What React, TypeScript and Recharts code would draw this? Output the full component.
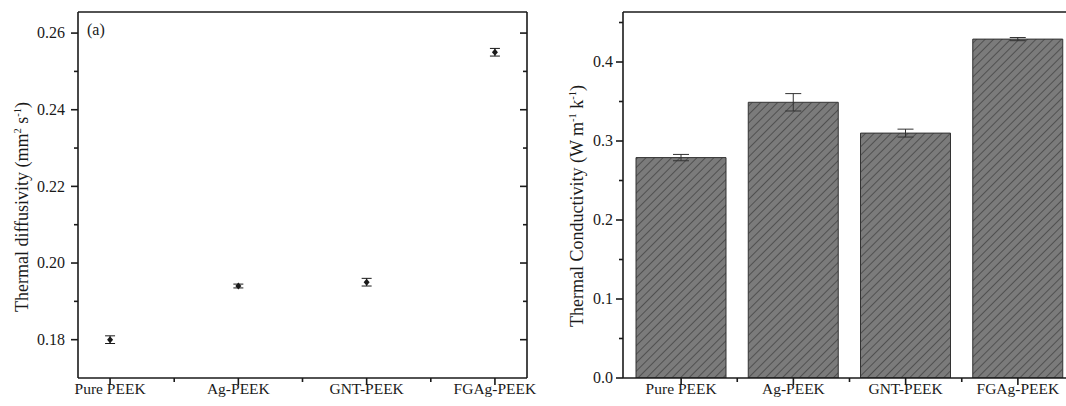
import React from "react";
import { ScatterChart, Scatter, BarChart, Bar, XAxis, YAxis, ErrorBar } from "recharts";

// samples (same order in both panels)
const categories = ["Pure PEEK", "Ag-PEEK", "GNT-PEEK", "FGAg-PEEK"];

// (a) thermal diffusivity, mm2/s
const diffusivity = [0.18, 0.194, 0.195, 0.255];
const diffusivityErr = [0.001, 0.0005, 0.001, 0.001];

// (b) thermal conductivity, W/(m k)
const conductivity = [0.279, 0.349, 0.31, 0.429];
const conductivityErr = [0.004, 0.011, 0.005, 0.002];

// tick positions (half steps are the minor ticks)
const catTicks = [1, 1.5, 2, 2.5, 3, 3.5, 4];
const diffTicks = [0.18, 0.19, 0.2, 0.21, 0.22, 0.23, 0.24, 0.25, 0.26];
const condTicks = [0, 0.05, 0.1, 0.15, 0.2, 0.25, 0.3, 0.35, 0.4, 0.45];

const INK = "#1a1a1a";
const FONT = "'Liberation Serif', 'Times New Roman', serif";
const AXIS = { stroke: INK, strokeWidth: 1.6 };

const scatterData = categories.map((name, i) => ({
    x: i + 1,
    name,
    y: diffusivity[i],
    err: diffusivityErr[i],
}));

const barData = categories.map((name, i) => ({
    x: i + 1,
    name,
    v: conductivity[i],
    err: conductivityErr[i],
}));

const bottomTick = (p: any) => {
    const v = p.payload.value;
    const major = Number.isInteger(v);
    return (
        <g>
            <line x1={p.x} x2={p.x} y1={p.y} y2={p.y + (major ? 7 : 4)} stroke={INK} strokeWidth={1.6} />
            {major && (
                <text x={p.x} y={p.y + 16} textAnchor="middle" fontFamily={FONT} fontSize={15.5} fill={INK}>
                    {categories[v - 1]}
                </text>
            )}
        </g>
    );
};

const leftTick = (isMajor: (v: number) => boolean, digits: number, gap: number) => (p: any) => {
    const v = p.payload.value;
    const major = isMajor(v);
    return (
        <g>
            <line x1={p.x - (major ? 7 : 4)} x2={p.x} y1={p.y} y2={p.y} stroke={INK} strokeWidth={1.6} />
            {major && (
                <text x={p.x - gap} y={p.y} dy="0.33em" textAnchor="end" fontFamily={FONT} fontSize={16} fill={INK}>
                    {v.toFixed(digits)}
                </text>
            )}
        </g>
    );
};

const rightTick = (isMajor: (v: number) => boolean) => (p: any) => {
    const major = isMajor(p.payload.value);
    return <line x1={p.x - (major ? 7 : 4)} x2={p.x} y1={p.y} y2={p.y} stroke={INK} strokeWidth={1.6} />;
};

const diffMajor = (v: number) => Math.round(v * 100) % 2 === 0;
const condMajor = (v: number) => Math.round(v * 100) % 10 === 0;

const yTitle = (parts: [string, boolean][], bx: number, by: number) => (props: any) => {
    const vb = props.viewBox || { x: 0, y: 0, width: 0, height: 0 };
    const cx = vb.x + bx;
    const cy = by;
    return (
        <text
            x={cx}
            y={cy}
            transform={`rotate(-90 ${cx} ${cy})`}
            textAnchor="middle"
            fontFamily={FONT}
            fontSize={18}
            fill={INK}
        >
            {parts.map(([t, sup], i) =>
                sup ? (
                    <tspan key={i} fontSize={10.5} dy={-7}>{t}</tspan>
                ) : (
                    <tspan key={i} dy={i > 0 && parts[i - 1][1] ? 7 : 0}>{t}</tspan>
                )
            )}
        </text>
    );
};

const diamond = (p: any) => (
    <polygon
        points={`${p.cx},${p.cy - 3.5} ${p.cx + 3},${p.cy} ${p.cx},${p.cy + 3.5} ${p.cx - 3},${p.cy}`}
        fill={INK}
    />
);

function DiffusivityChart() {
    return (
        <ScatterChart width={540} height={406} margin={{ top: 11, right: 12, bottom: 0, left: 0 }}>
            <XAxis
                xAxisId="x"
                dataKey="x"
                type="number"
                domain={[0.75, 4.25]}
                ticks={catTicks}
                interval={0}
                height={28}
                tickSize={0}
                tickMargin={0}
                tickLine={false}
                axisLine={AXIS}
                tick={bottomTick}
                allowDataOverflow
            />
            <XAxis
                xAxisId="top"
                orientation="top"
                type="number"
                domain={[0.75, 4.25]}
                ticks={[1]}
                height={1}
                tick={false}
                tickLine={false}
                axisLine={AXIS}
                allowDataOverflow
            />
            <YAxis
                yAxisId="y"
                dataKey="y"
                type="number"
                domain={[0.17, 0.2655]}
                ticks={diffTicks}
                interval={0}
                width={78}
                tickSize={0}
                tickMargin={0}
                tickLine={false}
                axisLine={AXIS}
                tick={leftTick(diffMajor, 2, 13)}
                allowDataOverflow
                label={{
                    content: yTitle(
                        [["Thermal diffusivity (mm", false], ["2", true], [" s", false], ["-1", true], [")", false]],
                        28,
                        207
                    ),
                }}
            />
            <YAxis
                yAxisId="r"
                orientation="right"
                type="number"
                domain={[0.17, 0.2655]}
                ticks={diffTicks}
                interval={0}
                width={1}
                tickSize={0}
                tickMargin={0}
                tickLine={false}
                axisLine={AXIS}
                tick={rightTick(diffMajor)}
                allowDataOverflow
            />
            <Scatter
                xAxisId="x"
                yAxisId="y"
                data={scatterData}
                fill={INK}
                shape={diamond}
                isAnimationActive={false}
            >
                <ErrorBar dataKey="err" direction="y" width={5} stroke={INK} strokeWidth={1} isAnimationActive={false} />
            </Scatter>
        </ScatterChart>
    );
}

function ConductivityChart() {
    return (
        <BarChart width={560} height={406} data={barData} margin={{ top: 11, right: 26, bottom: 0, left: 0 }}>
            <XAxis xAxisId="cat" dataKey="name" hide height={0} padding={{ left: 2, right: 0 }} />
            <XAxis
                xAxisId="num"
                dataKey="x"
                type="number"
                domain={[0.4822, 4.5]}
                ticks={catTicks}
                interval={0}
                height={28}
                tickSize={0}
                tickMargin={0}
                tickLine={false}
                axisLine={AXIS}
                tick={bottomTick}
                allowDataOverflow
            />
            <XAxis
                xAxisId="top"
                dataKey="x"
                orientation="top"
                type="number"
                domain={[0.4822, 4.5]}
                ticks={[1]}
                height={1}
                tick={false}
                tickLine={false}
                axisLine={AXIS}
                allowDataOverflow
            />
            <YAxis
                yAxisId="y"
                type="number"
                domain={[0, 0.4633]}
                ticks={condTicks}
                interval={0}
                width={83}
                tickSize={0}
                tickMargin={0}
                tickLine={false}
                axisLine={AXIS}
                tick={leftTick(condMajor, 1, 10)}
                allowDataOverflow
                label={{
                    content: yTitle(
                        [["Thermal Conductivity (W m", false], ["-1", true], [" k", false], ["-1", true], [")", false]],
                        43,
                        206
                    ),
                }}
            />
            <Bar
                xAxisId="cat"
                yAxisId="y"
                dataKey="v"
                barSize={90}
                fill="url(#hatch)"
                stroke="#333"
                strokeWidth={1}
                isAnimationActive={false}
            >
                <ErrorBar dataKey="err" direction="y" width={8} stroke="#333" strokeWidth={1} isAnimationActive={false} />
            </Bar>
        </BarChart>
    );
}

export default function App() {
    return (
        <div
            style={{
                position: "absolute",
                left: 0,
                top: 0,
                width: 1066,
                height: 406,
                overflow: "hidden",
                background: "#fff",
            }}
        >
            <svg width={0} height={0} style={{ position: "absolute" }}>
                <defs>
                    <pattern id="hatch" patternUnits="userSpaceOnUse" width={6} height={6} patternTransform="rotate(45)">
                        <rect width={6} height={6} fill="#7b7b7b" />
                        <line x1={0} y1={0} x2={0} y2={6} stroke="#2b2b2b" strokeWidth={1.1} />
                    </pattern>
                </defs>
            </svg>
            <div style={{ position: "absolute", left: 0, top: 0 }}>
                <DiffusivityChart />
            </div>
            <div style={{ position: "absolute", left: 540, top: 0 }}>
                <ConductivityChart />
            </div>
            <div
                style={{
                    position: "absolute",
                    left: 87,
                    top: 22,
                    fontFamily: FONT,
                    fontSize: 16,
                    lineHeight: "16px",
                    color: INK,
                }}
            >
                (a)
            </div>
        </div>
    );
}
